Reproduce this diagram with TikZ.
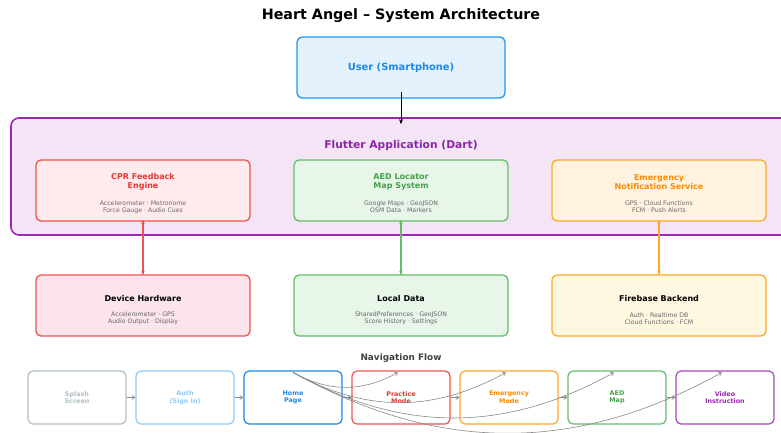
\documentclass[tikz,border=0pt]{standalone}
\usepackage{fontspec}
\setmainfont{DejaVu Sans}
\usetikzlibrary{arrows.meta,calc}
\definecolor{userfill}{HTML}{E3F2FD}
\definecolor{userdraw}{HTML}{2196F3}
\definecolor{usertext}{HTML}{1E88E5}
\definecolor{flfill}{HTML}{F3E5F5}
\definecolor{fldraw}{HTML}{9C27B0}
\definecolor{fltext}{HTML}{8E24AA}
\definecolor{redfill}{HTML}{FFEBEE}
\definecolor{reddraw}{HTML}{EF5350}
\definecolor{redtext}{HTML}{E53935}
\definecolor{grnfill}{HTML}{E8F5E9}
\definecolor{grndraw}{HTML}{66BB6A}
\definecolor{grntext}{HTML}{43A047}
\definecolor{orgfill}{HTML}{FFF3E0}
\definecolor{orgdraw}{HTML}{FFA726}
\definecolor{orgtext}{HTML}{FB8C00}
\definecolor{devfill}{HTML}{FCE4EC}
\definecolor{fbfill}{HTML}{FFF8E1}
\definecolor{subgray}{HTML}{666666}
\definecolor{splashc}{HTML}{B0BEC5}
\definecolor{authc}{HTML}{90CAF9}
\definecolor{homec}{HTML}{1E88E5}
\definecolor{videoc}{HTML}{AB47BC}
\definecolor{videotext}{HTML}{9C27B0}
\definecolor{navgray}{HTML}{888888}
\tikzset{
  box/.style={draw, rounded corners=5pt, line width=1.3pt, inner sep=0pt},
  mainbox/.style={box, minimum width=214pt, minimum height=61pt},
  navbox/.style={box, fill=white, line width=1.2pt, minimum width=98pt, minimum height=53pt},
  ttl/.style={font=\bfseries\fontsize{8}{9}\selectfont, align=center, inner sep=0pt},
  sub/.style={font=\fontsize{6.2}{7.2}\selectfont, align=center, inner sep=0pt, text=subgray},
  navtxt/.style={font=\bfseries\fontsize{6.4}{7.6}\selectfont, align=center, inner sep=0pt},
  vlink/.style={line width=1.1pt, {Stealth[length=4.5pt,width=3.5pt]}-{Stealth[length=4.5pt,width=3.5pt]}},
  navarrow/.style={draw=navgray, line width=0.6pt, -{Straight Barb[length=3pt,width=4pt]}},
}
\begin{document}
\begin{tikzpicture}[x=1pt,y=-1pt]
\useasboundingbox (0,0) rectangle (781,432);
\clip (0,0) rectangle (781,432);
% title
\node[font=\bfseries\fontsize{14.3}{16}\selectfont, inner sep=0pt] (title) at (401,16) {Heart Angel – System Architecture};
% user
\node[box, draw=userdraw, fill=userfill, minimum width=208pt, minimum height=61pt] (user) at (401,67.5) {};
\node[ttl, text=usertext, font=\bfseries\fontsize{9.9}{11}\selectfont] (usert) at (user.center) {User (Smartphone)};
% flutter container
\node[draw=fldraw, fill=flfill, line width=1.6pt, rounded corners=8pt, minimum width=784pt, minimum height=117pt, inner sep=0pt] (flutter) at (403,176.5) {};
\node[font=\bfseries\fontsize{10.7}{12}\selectfont, text=fltext, inner sep=0pt] (flt) at (401,145.5) {Flutter Application (Dart)};
\draw[line width=0.8pt, -{Stealth[length=5pt,width=4pt]}] ($(user.south)+(0,-7)$) -- ($(user.south |- flutter.north)+(0,7)$);
% inner boxes
\node[mainbox, draw=reddraw, fill=redfill] (cpr) at (143,190.5) {};
\node[ttl, text=redtext] (cprt) at (143,182) {CPR Feedback\\Engine};
\node[sub] (cprs) at (143,207) {Accelerometer · Metronome\\Force Gauge · Audio Cues};
\node[mainbox, draw=grndraw, fill=grnfill] (aed) at (401,190.5) {};
\node[ttl, text=grntext] (aedt) at (401,182) {AED Locator\\Map System};
\node[sub] (aeds) at (401,207) {Google Maps · GeoJSON\\OSM Data · Markers};
\node[mainbox, draw=orgdraw, fill=orgfill] (emer) at (659,190.5) {};
\node[ttl, text=orgtext] (emert) at (659,182) {Emergency\\Notification Service};
\node[sub] (emers) at (659,207) {GPS · Cloud Functions\\FCM · Push Alerts};
% bottom boxes
\node[mainbox, draw=reddraw, fill=devfill] (dev) at (143,305.5) {};
\node[ttl] (devt) at (143,299) {Device Hardware};
\node[sub] (devs) at (143,318.5) {Accelerometer · GPS\\Audio Output · Display};
\node[mainbox, draw=grndraw, fill=grnfill] (loc) at (401,305.5) {};
\node[ttl] (loct) at (401,299) {Local Data};
\node[sub] (locs) at (401,318.5) {SharedPreferences · GeoJSON\\Score History · Settings};
\node[mainbox, draw=orgdraw, fill=fbfill] (fb) at (659,305.5) {};
\node[ttl] (fbt) at (659,299) {Firebase Backend};
\node[sub] (fbs) at (659,318.5) {Auth · Realtime DB\\Cloud Functions · FCM};
% vertical links
\draw[vlink, color=reddraw] ($(cpr.south)+(0,-2)$) -- ($(dev.north)+(0,1)$);
\draw[vlink, color=grndraw] ($(aed.south)+(0,-2)$) -- ($(loc.north)+(0,1)$);
\draw[vlink, color=orgdraw] ($(emer.south)+(0,-2)$) -- ($(fb.north)+(0,1)$);
% navigation
\node[font=\bfseries\fontsize{8.9}{10}\selectfont, text=black!75, inner sep=0pt] (navt) at (401,358) {Navigation Flow};
\node[navbox, draw=splashc] (splash) at (77,397.5) {};
\node[navtxt, text=splashc] at (splash.center) {Splash\\Screen};
\node[navbox, draw=authc] (auth) at (185,397.5) {};
\node[navtxt, text=authc] at (auth.center) {Auth\\(Sign In)};
\node[navbox, draw=homec] (home) at (293,397.5) {};
\node[navtxt, text=homec] at (home.center) {Home\\Page};
\node[navbox, draw=reddraw] (prac) at (401,397.5) {};
\node[navtxt, text=redtext] at (prac.center) {Practice\\Mode};
\node[navbox, draw=orgdraw] (emode) at (509,397.5) {};
\node[navtxt, text=orgtext] at (emode.center) {Emergency\\Mode};
\node[navbox, draw=grndraw] (amap) at (617,397.5) {};
\node[navtxt, text=grntext] at (amap.center) {AED\\Map};
\node[navbox, draw=videoc] (video) at (725,397.5) {};
\node[navtxt, text=videotext] at (video.center) {Video\\Instruction};
% sequential arrows
\foreach \a/\b in {splash/auth, auth/home, home/prac, prac/emode, emode/amap, amap/video}
  \draw[navarrow] (\a.east) -- (\b.west);
% curved arrows from home
\draw[navarrow] ($(home.north)+(0,2)$) to[bend right=29] ($(prac.north)+(-3,2)$);
\draw[navarrow] ($(home.north)+(0,2)$) to[bend right=29] ($(emode.north)+(-3,2)$);
\draw[navarrow] ($(home.north)+(0,2)$) to[bend right=29] ($(amap.north)+(-3,2)$);
\draw[navarrow] ($(home.north)+(0,2)$) to[bend right=29] ($(video.north)+(-3,2)$);
\end{tikzpicture}
\end{document}
